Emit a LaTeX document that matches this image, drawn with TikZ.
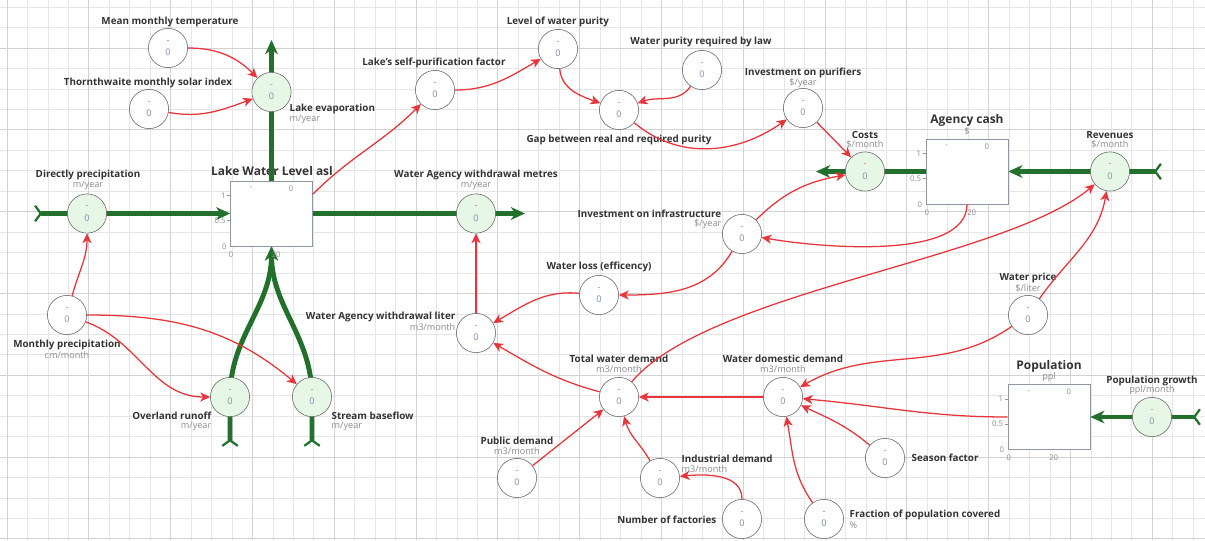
\documentclass[tikz,border=0pt]{standalone}
\usepackage{fontspec}
\setmainfont{Open Sans}
\usepackage{tikz}
\usetikzlibrary{arrows.meta,positioning,backgrounds,calc}

\definecolor{flowgreen}{HTML}{22702C}
\definecolor{flowfill}{HTML}{E6F7E6}
\definecolor{linkred}{HTML}{E8353B}
\definecolor{ringgray}{HTML}{666666}
\definecolor{stockgray}{HTML}{8C98A4}
\definecolor{lbltext}{HTML}{333333}
\definecolor{unittext}{HTML}{8C8C8C}
\definecolor{cminus}{HTML}{E07A5F}
\definecolor{czero}{HTML}{7F8FB0}
\definecolor{minorgrid}{HTML}{E6E6E6}
\definecolor{majorgrid}{HTML}{D2D2D2}

\newcommand{\dashzero}{\textcolor{cminus}{-}\\[2pt]\textcolor{czero}{0}}

\begin{document}
\begin{tikzpicture}[
  x=0.025cm, y=0.025cm,
  >=Stealth,
  conv/.style={circle, draw=ringgray, fill=white, minimum size=0.98cm, inner sep=0pt, align=center, font=\fontsize{6.5}{7}\selectfont},
  flowc/.style={conv, fill=flowfill},
  stock/.style={draw=stockgray, fill=white, minimum width=2.05cm, minimum height=1.625cm, inner sep=0pt},
  lbl/.style={font=\fontsize{7}{8}\selectfont\bfseries, text=lbltext, inner sep=1pt},
  unitlbl/.style={font=\fontsize{6.5}{7}\selectfont, text=unittext, inner sep=1pt},
  stocktitle/.style={font=\fontsize{8.5}{9}\selectfont\bfseries, text=lbltext, inner sep=1pt},
  stocktick/.style={font=\fontsize{5.5}{6}\selectfont, text=unittext, inner sep=1pt},
  flow/.style={draw=flowgreen, line width=3.5pt, {Straight Barb[reversed, length=4pt, width=11pt, line width=1.6pt]}-{Stealth[length=10pt, width=9pt, inset=3pt]}},
  flowout/.style={draw=flowgreen, line width=3.5pt, -{Stealth[length=10pt, width=9pt, inset=3pt]}},
  flowline/.style={draw=flowgreen, line width=3.5pt},
  link/.style={draw=linkred, line width=0.9pt, -{Stealth[length=7pt, width=6.5pt, inset=2pt]}},
]
\useasboundingbox (0,0) rectangle (1205,-540);

% grid
\begin{scope}[on background layer]
  \fill[white] (0,0) rectangle (1205,-540);
  \begin{scope}[shift={(7,-48)}]
    \draw[minorgrid, line width=0.5pt, step={(20.45,20.45)}] (-7,-492) grid (1198,48);
    \draw[majorgrid, line width=0.6pt, step={(81.8,81.8)}] (-7,-492) grid (1198,48);
  \end{scope}
\end{scope}

% Stocks
\node[stock] (lake) at (271.5,-213.5) {};
\node[stocktitle] (lakeT) at (272,-171) {Lake Water Level asl};
\node[stock] (cash) at (967,-171.5) {};
\node[stocktitle] (cashT) at (967,-120) {Agency cash};
\node[unitlbl] (cashU) at (967,-131) {\$};
\node[stock] (pop) at (1049,-417) {};
\node[stocktitle] (popT) at (1049,-366) {Population};
\node[unitlbl] (popU) at (1049,-377) {ppl};

\foreach \s in {lake,cash,pop} {
  \node[stocktick, anchor=east] (\s Y1) at ([shift={(-3,-15)}]\s.north west) {1};
  \node[stocktick, anchor=east] (\s Y2) at ([shift={(-3,-40)}]\s.north west) {0.5};
  \node[stocktick, anchor=east] (\s Y0) at ([shift={(-2,0)}]\s.south west) {0};
  \node[stocktick] (\s X0) at ([shift={(1,-8)}]\s.south west) {0};
  \node[stocktick] (\s X1) at ([shift={(46,-8)}]\s.south west) {20};
  \node[stocktick] (\s M) at ([shift={(21,-8)}]\s.north west) {-};
  \node[stocktick] (\s V) at ([shift={(61,-8)}]\s.north west) {0};
  \draw[stockgray] ([shift={(0,-15)}]\s.north west) -- ++(-3,0)
                   ([shift={(0,-40)}]\s.north west) -- ++(-3,0);
}

% Lake sector
\node[conv] (mtemp) at (168,-48) {\dashzero};
\node[lbl] (mtempL) at (170,-22) {Mean monthly temperature};
\node[conv] (solar) at (149,-109) {\dashzero};
\node[lbl] (solarL) at (148,-83) {Thornthwaite monthly solar index};
\node[flowc] (evap) at (271.5,-92) {\dashzero};
\node[lbl, anchor=west] (evapL) at (288,-109) {Lake evaporation};
\node[unitlbl, anchor=west] (evapU) at (288,-119) {m/year};
\node[flowc] (dprec) at (87,-213.5) {\dashzero};
\node[lbl] (dprecL) at (88,-175) {Directly precipitation};
\node[unitlbl] (dprecU) at (88,-185) {m/year};
\node[flowc] (wamet) at (476,-213.5) {\dashzero};
\node[lbl] (wametL) at (476,-175) {Water Agency withdrawal metres};
\node[unitlbl] (wametU) at (476,-185) {m/year};
\node[conv] (mprec) at (67,-315) {\dashzero};
\node[lbl] (mprecL) at (67,-345) {Monthly precipitation};
\node[unitlbl] (mprecU) at (67,-355) {cm/month};
\node[flowc] (runoff) at (230,-397) {\dashzero};
\node[lbl, anchor=east] (runoffL) at (213,-416) {Overland runoff};
\node[unitlbl, anchor=east] (runoffU) at (213,-426) {m/year};
\node[flowc] (base) at (312,-397) {\dashzero};
\node[lbl, anchor=west] (baseL) at (330,-416) {Stream baseflow};
\node[unitlbl, anchor=west] (baseU) at (330,-426) {m/year};

% Purity sector
\node[conv] (selfp) at (435,-90) {\dashzero};
\node[lbl] (selfpL) at (434,-63) {Lake's self-purification factor};
\node[conv] (purity) at (558,-49) {\dashzero};
\node[lbl] (purityL) at (558,-22) {Level of water purity};
\node[conv] (law) at (702,-70) {\dashzero};
\node[lbl] (lawL) at (701,-42) {Water purity required by law};
\node[conv] (gap) at (619,-110) {\dashzero};
\node[lbl] (gapL) at (619,-140) {Gap between real and required purity};
\node[conv] (invp) at (803,-108) {\dashzero};
\node[lbl] (invpL) at (803,-73) {Investment on purifiers};
\node[unitlbl] (invpU) at (803,-83) {\$/year};

% Agency sector
\node[flowc] (costs) at (865,-171.5) {\dashzero};
\node[lbl] (costsL) at (865,-135) {Costs};
\node[unitlbl] (costsU) at (865,-144) {\$/month};
\node[flowc] (rev) at (1110,-171.5) {\dashzero};
\node[lbl] (revL) at (1110,-135) {Revenues};
\node[unitlbl] (revU) at (1110,-144) {\$/month};
\node[conv] (invi) at (742,-234) {\dashzero};
\node[lbl, anchor=east] (inviL) at (723,-214) {Investment on infrastructure};
\node[unitlbl, anchor=east] (inviU) at (723,-224) {\$/year};
\node[conv] (loss) at (599,-295) {\dashzero};
\node[lbl] (lossL) at (599,-267) {Water loss (efficency)};
\node[conv] (waliter) at (476,-333) {\dashzero};
\node[lbl, anchor=east] (waliterL) at (457,-317) {Water Agency withdrawal liter};
\node[unitlbl, anchor=east] (waliterU) at (457,-327) {m3/month};
\node[conv] (price) at (1028,-315) {\dashzero};
\node[lbl] (priceL) at (1028,-278) {Water price};
\node[unitlbl] (priceU) at (1028,-288) {\$/liter};

% Demand sector
\node[conv] (total) at (619,-397) {\dashzero};
\node[lbl] (totalL) at (619,-359) {Total water demand};
\node[unitlbl] (totalU) at (619,-369) {m3/month};
\node[conv] (dom) at (783,-397) {\dashzero};
\node[lbl] (domL) at (783,-359) {Water domestic demand};
\node[unitlbl] (domU) at (783,-369) {m3/month};
\node[conv] (public) at (517,-478) {\dashzero};
\node[lbl] (publicL) at (517,-441) {Public demand};
\node[unitlbl] (publicU) at (517,-451) {m3/month};
\node[conv] (indus) at (660,-478) {\dashzero};
\node[lbl, anchor=west] (indusL) at (680,-459) {Industrial demand};
\node[unitlbl, anchor=west] (indusU) at (680,-469) {m3/month};
\node[conv] (factories) at (742,-519) {\dashzero};
\node[lbl, anchor=east] (factoriesL) at (718,-520) {Number of factories};
\node[conv] (season) at (885,-458) {\dashzero};
\node[lbl, anchor=west] (seasonL) at (910,-458) {Season factor};
\node[conv] (frac) at (824,-519) {\dashzero};
\node[lbl, anchor=west] (fracL) at (848,-515) {Fraction of population covered};
\node[unitlbl, anchor=west] (fracU) at (848,-525) {\%};
\node[flowc] (popg) at (1152,-417) {\dashzero};
\node[lbl] (popgL) at (1152,-381) {Population growth};
\node[unitlbl] (popgU) at (1152,-390) {ppl/month};

% Sources and sinks
\coordinate (evapsink) at (271.5,-40);
\coordinate (dprecsrc) at (34,-213.5);
\coordinate (wametsink) at (525,-213.5);
\coordinate (runoffsrc) at (230,-447);
\coordinate (basesrc) at (312,-447);
\coordinate (costssink) at (816,-171.5);
\coordinate (revsrc) at (1162,-171.5);
\coordinate (popsrc) at (1201,-417);

% Flows
\draw[flowline] (lake.north) -- (evap);
\draw[flowout] (evap) -- (evapsink);
\begin{scope}[on background layer]
  \draw[flow] (dprecsrc) -- (lake.west);
  \draw[flowout] (lake.east) -- (wametsink);
  \draw[flow] (runoffsrc) -- (runoff.center) to[out=90, in=-90] (lake.south);
  \draw[flow] (basesrc) -- (base.center) to[out=90, in=-90] (lake.south);
  \draw[flowout] (cash.west) -- (costssink);
  \draw[flow] (revsrc) -- (cash.east);
  \draw[flow] (popsrc) -- (pop.east);
\end{scope}

% Causal links
\draw[link] (mtemp) to[out=0, in=135] (evap);
\draw[link] (solar) to[out=-10, in=200] (evap);
\draw[link] (mprec) to[out=75, in=-90] (dprec);
\draw[link] (mprec) to[out=-20, in=180] (runoff);
\draw[link] (mprec) to[out=0, in=140] (base);
\draw[link] (lake.25) to[out=45, in=225] (selfp);
\draw[link] (selfp) to[out=0, in=210] (purity);
\draw[link] (purity) to[out=-85, in=160] (gap);
\draw[link] (law) to[out=235, in=20] (gap);
\draw[link] (gap) to[out=-40, in=215] (invp);
\draw[link] (invp) -- (costs);
\draw[link] (invi) to[out=45, in=190] (costs);
\draw[link] (cash.south) to[out=-90, in=-10, looseness=0.7] (invi);
\draw[link] (invi) to[out=-120, in=0] (loss);
\draw[link] (loss) to[out=175, in=30] (waliter);
\draw[link] (waliter) -- (wamet);
\draw[link] (total) to[out=165, in=-30] (waliter);
\draw[link] (total) to[out=50, in=220, looseness=0.6] (rev);
\draw[link] (price) to[out=55, in=-100] (rev);
\draw[link] (price) to[out=215, in=30] (dom);
\draw[link] (pop.west) to[out=180, in=-5] (dom);
\draw[link] (season) to[out=140, in=-25] (dom);
\draw[link] (frac) to[out=125, in=-80] (dom);
\draw[link] (dom) -- (total);
\draw[link] (public) -- (total);
\draw[link] (indus) to[out=120, in=-75] (total);
\draw[link] (factories) to[out=90, in=5] (indus);

\end{tikzpicture}
\end{document}
